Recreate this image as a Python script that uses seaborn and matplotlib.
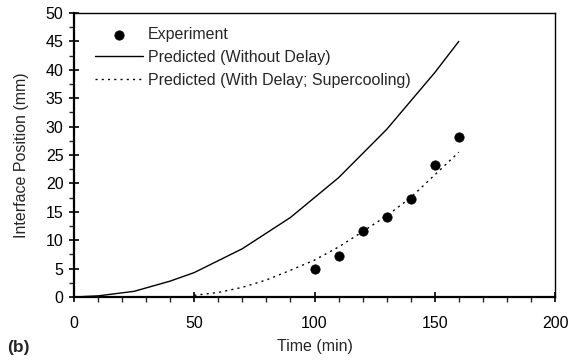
import matplotlib
matplotlib.use('Agg')
import matplotlib.pyplot as plt
from matplotlib.ticker import MultipleLocator
import seaborn as sns

# experiment
exp_time = [100, 110, 120, 130, 140, 150, 160]
exp_pos = [5.0, 7.2, 11.7, 14.1, 17.2, 23.2, 28.1]

# predicted without delay
nd_time = [0, 10, 25, 40, 50, 70, 90, 110, 130, 150, 160]
nd_pos = [0.0, 0.2, 1.0, 2.8, 4.3, 8.5, 14.0, 21.0, 29.5, 39.5, 45.0]

# predicted with delay (supercooling)
wd_time = [50, 60, 70, 80, 90, 100, 110, 120, 130, 140, 150, 160]
wd_pos = [0.3, 0.8, 1.7, 3.0, 4.7, 6.5, 8.8, 11.5, 14.3, 17.5, 21.5, 25.5]

sns.set_style('ticks')
plt.rcParams['font.family'] = ['Liberation Sans', 'DejaVu Sans']

fig = plt.figure(figsize=(5.71, 3.6), dpi=100)
ax = fig.add_axes([0.1296, 0.175, 0.8424, 0.789])

sns.scatterplot(x=exp_time, y=exp_pos, ax=ax, color='black', s=45,
                edgecolor='black', label='Experiment', zorder=3)
sns.lineplot(x=nd_time, y=nd_pos, ax=ax, color='black', lw=1.0,
             label='Predicted (Without Delay)')
sns.lineplot(x=wd_time, y=wd_pos, ax=ax, color='black', lw=1.0,
             linestyle=(0, (1.5, 3)), label='Predicted (With Delay; Supercooling)')

ax.set_xlim(0, 200)
ax.set_ylim(0, 50)
ax.xaxis.set_major_locator(MultipleLocator(50))
ax.xaxis.set_minor_locator(MultipleLocator(10))
ax.yaxis.set_major_locator(MultipleLocator(5))
ax.yaxis.set_minor_locator(MultipleLocator(2.5))
ax.tick_params(which='major', direction='inout', length=7, width=1.2,
               labelsize=11.5, colors='black')
ax.tick_params(which='minor', direction='out', length=3.5, width=1.0)
ax.tick_params(axis='x', which='major', pad=10)
ax.tick_params(axis='y', which='major', pad=4)

for side in ['left', 'bottom']:
    ax.spines[side].set_linewidth(1.6)
for side in ['top', 'right']:
    ax.spines[side].set_linewidth(1.0)
for s in ax.spines.values():
    s.set_color('black')

ax.set_xlabel('Time (min)', fontsize=11.5, labelpad=6)
ax.set_ylabel('Interface Position (mm)', fontsize=11.5, labelpad=12)

ax.legend(loc='upper left', bbox_to_anchor=(0.02, 0.99), frameon=False,
          fontsize=11.5, handlelength=3.0, handletextpad=0.3,
          labelspacing=0.5, borderaxespad=0.3)

fig.text(0.012, 0.022, '(b)', fontsize=12.5, fontweight='bold')

fig.savefig('out.png', dpi=100)
